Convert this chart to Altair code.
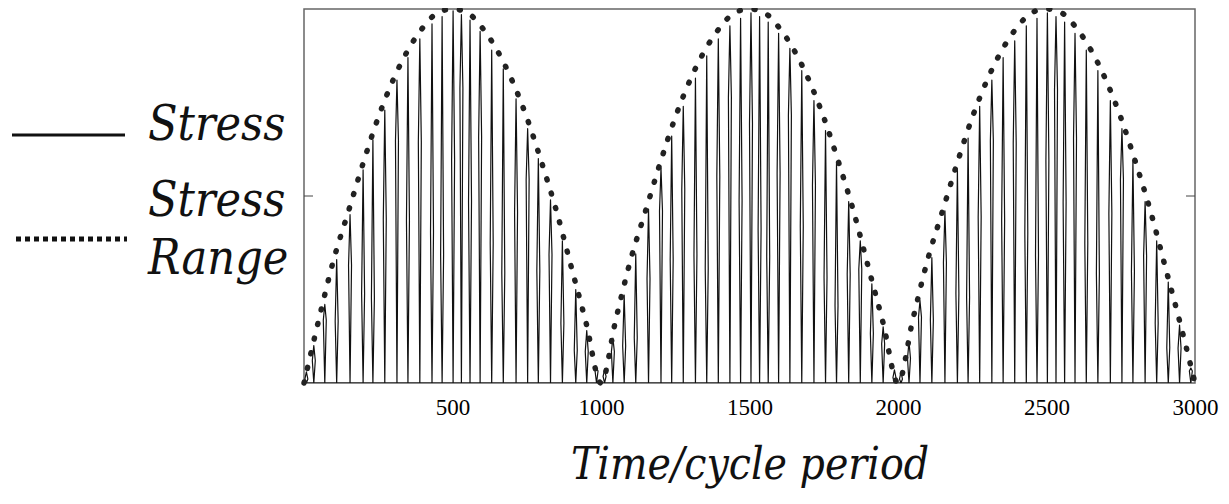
import altair as alt
import pandas as pd

# ---- data ----
spike_t = [8, 33, 70, 110, 155, 199, 232, 272, 313, 350, 390, 431, 465, 502, 530, 559, 593, 632, 671, 714, 753, 789, 830, 870, 915, 952, 985,
           1012, 1040, 1078, 1117, 1160, 1202, 1238, 1277, 1318, 1356, 1395, 1434, 1470, 1505, 1534, 1563, 1598, 1636, 1676, 1717, 1756, 1793, 1834, 1873, 1912, 1950, 1988,
           2010, 2037, 2074, 2114, 2158, 2200, 2236, 2275, 2316, 2354, 2393, 2432, 2468, 2503, 2532, 2561, 2596, 2634, 2673, 2715, 2754, 2791, 2832, 2871, 2910, 2948, 2986]
spike_h = [0.03, 0.10, 0.21, 0.33, 0.45, 0.57, 0.65, 0.73, 0.81, 0.87, 0.92, 0.96, 0.98, 0.995, 0.985, 0.97, 0.94, 0.89, 0.84, 0.76, 0.68, 0.60, 0.49, 0.38, 0.25, 0.14, 0.04,
           0.035, 0.12, 0.235, 0.345, 0.465, 0.575, 0.66, 0.74, 0.815, 0.875, 0.92, 0.955, 0.975, 0.99, 0.98, 0.965, 0.935, 0.895, 0.835, 0.755, 0.675, 0.59, 0.485, 0.38, 0.265, 0.15, 0.035,
           0.03, 0.11, 0.22, 0.335, 0.46, 0.57, 0.655, 0.74, 0.81, 0.87, 0.915, 0.955, 0.975, 0.99, 0.98, 0.965, 0.935, 0.89, 0.835, 0.755, 0.68, 0.595, 0.485, 0.38, 0.27, 0.155, 0.04]

range_t = [0, 50, 100, 150, 200, 250, 300, 350, 400, 450, 500, 550, 600, 650, 700, 750, 800, 850, 900, 950,
           1000, 1050, 1100, 1150, 1200, 1250, 1300, 1350, 1400, 1450, 1500, 1550, 1600, 1650, 1700, 1750, 1800, 1850, 1900, 1950,
           2000, 2050, 2100, 2150, 2200, 2250, 2300, 2350, 2400, 2450, 2500, 2550, 2600, 2650, 2700, 2750, 2800, 2850, 2900, 2950, 3000]
range_v = [0.0, 0.17, 0.33, 0.46, 0.59, 0.71, 0.81, 0.89, 0.95, 0.99, 1.0, 0.99, 0.95, 0.89, 0.81, 0.71, 0.59, 0.46, 0.31, 0.16,
           0.0, 0.17, 0.33, 0.46, 0.59, 0.71, 0.81, 0.89, 0.95, 0.99, 1.0, 0.99, 0.95, 0.89, 0.81, 0.71, 0.59, 0.46, 0.31, 0.16,
           0.0, 0.17, 0.33, 0.46, 0.59, 0.71, 0.81, 0.89, 0.95, 0.99, 1.0, 0.99, 0.95, 0.89, 0.81, 0.71, 0.59, 0.46, 0.31, 0.16, 0.0]

x_ticks = [500, 1000, 1500, 2000, 2500, 3000]
legend_labels = ["Stress", "Stress", "Range"]
x_title = "Time/cycle period"

# ---- build the stress trace (each spike is a thin lens from 0 up to its peak) ----
W = 5
kinks = [0.35, 0.6, 0.8, 0.5, 0.7, 0.42]
rows = []
k = 0
for i, (t, h) in enumerate(zip(spike_t, spike_h)):
    f = kinks[i % len(kinks)]
    for (xx, yy) in [(t, 0), (t - W, h * f), (t, h), (t + W, h * f), (t, 0)]:
        rows.append({"t": xx, "v": yy, "ord": k})
        k += 1
stress_df = pd.DataFrame(rows)
range_df = pd.DataFrame({"t": range_t, "v": range_v})

SERIF = "Liberation Serif"
ITAL = "DejaVu Serif Condensed"

xenc = alt.X("t:Q", scale=alt.Scale(domain=[0, 3000], nice=False, zero=False),
             axis=alt.Axis(values=x_ticks, format="d", title=x_title, ticks=False, domain=False, grid=False,
                           labelFont=SERIF, labelFontSize=23, labelColor="black", labelPadding=13,
                           labelFlush=False, labelOverlap=False,
                           titleFont=ITAL, titleFontSize=44, titleFontStyle="italic",
                           titleFontWeight="normal", titleColor="#111",
                           titleBaseline="alphabetic", titleY=95))
yenc = alt.Y("v:Q", scale=alt.Scale(domain=[0, 1], nice=False), axis=None)

stress = alt.Chart(stress_df).mark_line(color="#111", strokeWidth=1.2, strokeJoin="round", clip=True).encode(
    x=xenc, y=yenc, order="ord:Q")

srange = alt.Chart(range_df).mark_line(color="#222", strokeWidth=5.5, strokeDash=[1, 14],
                                       strokeCap="round", interpolate="monotone", clip=False).encode(
    x="t:Q", y="v:Q")

one = pd.DataFrame({"a": [0]})
tick_l = alt.Chart(one).mark_rule(color="#444", strokeWidth=1).encode(
    x=alt.value(0), x2=alt.value(9), y=alt.datum(0.5))
tick_r = alt.Chart(one).mark_rule(color="#444", strokeWidth=1).encode(
    x=alt.value(882), x2=alt.value(891), y=alt.datum(0.5))

leg_line1 = alt.Chart(one).mark_rule(color="#111", strokeWidth=3).encode(
    x=alt.value(-292), x2=alt.value(-179), y=alt.value(126))
leg_line2 = alt.Chart(one).mark_rule(color="#111", strokeWidth=5, strokeDash=[5, 4]).encode(
    x=alt.value(-288), x2=alt.value(-177), y=alt.value(230))

def leg_text(label, y):
    return alt.Chart(one).mark_text(font=ITAL, fontSize=48, fontStyle="italic", align="left",
                                    baseline="alphabetic", color="#111").encode(
        x=alt.value(-156), y=alt.value(y), text=alt.value(label))

t1 = leg_text(legend_labels[0], 131)
t2 = leg_text(legend_labels[1], 207)
t3 = leg_text(legend_labels[2], 265)

chart = alt.layer(stress, srange, tick_l, tick_r, leg_line1, leg_line2, t1, t2, t3).properties(
    width=891, height=374,
    autosize=alt.AutoSizeParams(type="none"),
    padding={"left": 296, "top": 1, "right": 24, "bottom": 120},
).configure_view(stroke="#666", strokeWidth=1.5)

chart.save("out.html", embed_options={"renderer": "svg", "actions": False})
